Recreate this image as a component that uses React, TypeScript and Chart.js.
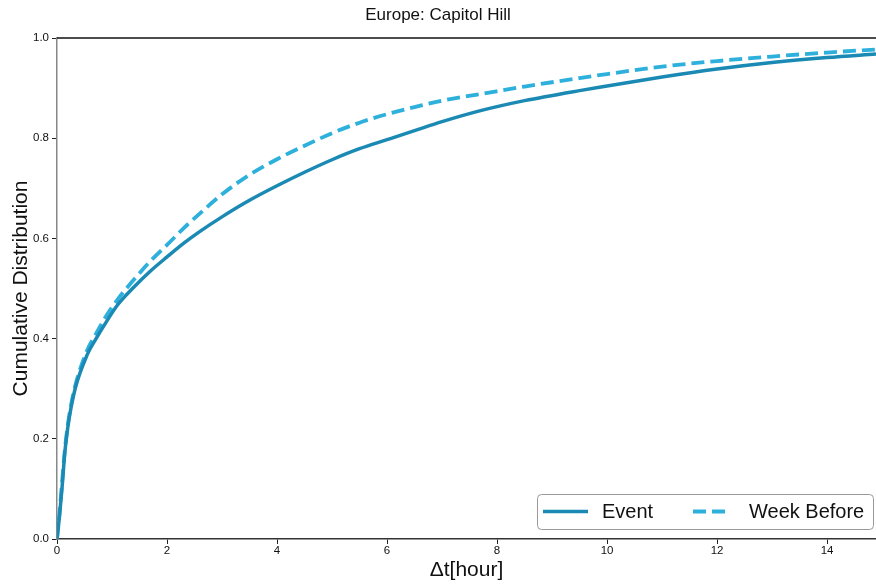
import React, { useEffect, useRef } from "react";
import { Chart, registerables } from "chart.js";

Chart.register(...registerables);

const TITLE = "Europe: Capitol Hill";
const X_LABEL = "Δt[hour]";
const Y_LABEL = "Cumulative Distribution";
const SERIES_NAMES = ["Event", "Week Before"];

const hours = [0, 0.04, 0.09, 0.14, 0.17, 0.22, 0.33, 0.55, 0.7, 0.9, 1.1, 1.4, 1.7, 2.0, 2.3, 2.6, 3.0, 3.5, 4.0, 4.5, 5.0, 5.5, 6.0, 6.5, 7.0, 7.7, 8.5, 9.5, 10.0, 11.0, 12.0, 13.0, 14.0, 14.89];
const eventCdf = [0, 0.04, 0.10, 0.17, 0.20, 0.24, 0.30, 0.368, 0.398, 0.434, 0.467, 0.503, 0.535, 0.563, 0.59, 0.614, 0.643, 0.676, 0.705, 0.732, 0.757, 0.779, 0.797, 0.815, 0.833, 0.855, 0.875, 0.895, 0.904, 0.922, 0.938, 0.951, 0.961, 0.968];
const weekBeforeCdf = [0, 0.045, 0.11, 0.175, 0.205, 0.245, 0.305, 0.377, 0.408, 0.446, 0.478, 0.518, 0.555, 0.587, 0.62, 0.65, 0.688, 0.727, 0.758, 0.785, 0.81, 0.831, 0.848, 0.862, 0.875, 0.888, 0.903, 0.92, 0.928, 0.943, 0.954, 0.963, 0.971, 0.977];

const X_MAX = 14.89;
const FONT = "'Liberation Sans', Arial, Helvetica, sans-serif";

const framePlugin = {
  id: "frameAndLegend",
  afterDraw(chart: any) {
    const { ctx, chartArea } = chart;
    ctx.save();
    // top border
    ctx.strokeStyle = "#111";
    ctx.lineWidth = 1.5;
    ctx.beginPath();
    ctx.moveTo(chartArea.left, chartArea.top);
    ctx.lineTo(chartArea.right, chartArea.top);
    ctx.stroke();

    // legend box
    const w = 336;
    const h = 35;
    const x0 = chartArea.right - 3 - w;
    const y0 = chartArea.bottom - 10 - h;
    ctx.fillStyle = "rgba(255,255,255,0.9)";
    ctx.strokeStyle = "#999";
    ctx.lineWidth = 1;
    ctx.beginPath();
    (ctx as any).roundRect(x0 + 0.5, y0 + 0.5, w, h, 4);
    ctx.fill();
    ctx.stroke();

    const cy = y0 + h / 2;
    const ds = chart.data.datasets;
    ctx.font = `20px ${FONT}`;
    ctx.textBaseline = "middle";
    ctx.textAlign = "left";
    // Event
    ctx.strokeStyle = ds[0].borderColor;
    ctx.lineWidth = ds[0].borderWidth;
    ctx.setLineDash([]);
    ctx.beginPath();
    ctx.moveTo(x0 + 6, cy);
    ctx.lineTo(x0 + 51, cy);
    ctx.stroke();
    ctx.fillStyle = "#111";
    ctx.fillText(ds[0].label, x0 + 65, cy + 1);
    // Week Before
    ctx.strokeStyle = ds[1].borderColor;
    ctx.lineWidth = ds[1].borderWidth;
    ctx.setLineDash([13, 6]);
    ctx.beginPath();
    ctx.moveTo(x0 + 156, cy);
    ctx.lineTo(x0 + 193, cy);
    ctx.stroke();
    ctx.setLineDash([]);
    ctx.fillText(ds[1].label, x0 + 212, cy + 1);
    ctx.restore();
  },
};

export default function App() {
  const canvasRef = useRef<HTMLCanvasElement | null>(null);

  useEffect(() => {
    const canvas = canvasRef.current;
    if (!canvas) return;
    const chart = new Chart(canvas, {
      type: "line",
      data: {
        datasets: [
          {
            label: SERIES_NAMES[0],
            data: hours.map((h, i) => ({ x: h, y: eventCdf[i] })),
            borderColor: "#1a8ab5",
            borderWidth: 3.5,
            pointRadius: 0,
            cubicInterpolationMode: "monotone",
            fill: false,
          },
          {
            label: SERIES_NAMES[1],
            data: hours.map((h, i) => ({ x: h, y: weekBeforeCdf[i] })),
            borderColor: "#2eb0dc",
            borderWidth: 3.8,
            borderDash: [13, 6],
            pointRadius: 0,
            cubicInterpolationMode: "monotone",
            fill: false,
          },
        ],
      },
      options: {
        animation: false,
        responsive: false,
        layout: { padding: { left: 0, right: 0, top: 0, bottom: 0 }, autoPadding: false },
        plugins: {
          legend: { display: false },
          tooltip: { enabled: false },
          title: {
            display: true,
            text: TITLE,
            color: "#111",
            font: { family: FONT, size: 17, weight: "normal" },
            padding: { top: 5, bottom: 12.6 },
          },
        },
        scales: {
          x: {
            type: "linear",
            min: 0,
            max: X_MAX,
            afterFit: (s: any) => { s.height = 45; },
            ticks: {
              stepSize: 2,
              includeBounds: false,
              color: "#111",
              font: { family: FONT, size: 11.5 },
              padding: 0,
              maxRotation: 0,
              callback: (v: any) => String(v),
            },
            grid: { display: true, drawOnChartArea: false, drawTicks: true, tickLength: 5, color: "#222" },
            border: { display: true, color: "#333", width: 1.5 },
            title: {
              display: true,
              text: X_LABEL,
              color: "#111",
              font: { family: FONT, size: 21 },
              padding: { top: 0, bottom: 1 },
            },
          },
          y: {
            type: "linear",
            min: 0,
            max: 1,
            afterFit: (s: any) => { s.width = 57; },
            ticks: {
              stepSize: 0.2,
              color: "#111",
              font: { family: FONT, size: 11.5 },
              padding: 3,
              callback: (v: any) => Number(v).toFixed(1),
            },
            grid: { display: true, drawOnChartArea: false, drawTicks: true, tickLength: 5, color: "#222" },
            border: { display: true, color: "#888", width: 1.5 },
            title: {
              display: true,
              text: Y_LABEL,
              color: "#111",
              font: { family: FONT, size: 21 },
              padding: { top: 9, bottom: 0 },
            },
          },
        },
      },
      plugins: [framePlugin],
    } as any);
    return () => chart.destroy();
  }, []);

  return (
    <div style={{ position: "fixed", left: 0, top: 0, width: 876, height: 584, background: "#fff" }}>
      <canvas ref={canvasRef} width={876} height={584} style={{ width: 876, height: 584, display: "block" }} />
    </div>
  );
}
